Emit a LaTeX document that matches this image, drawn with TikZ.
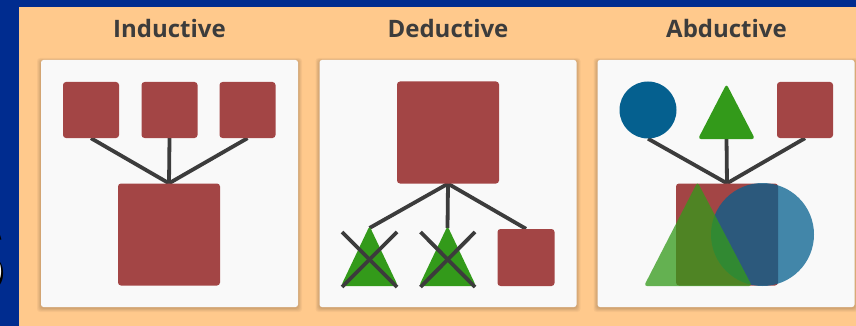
\documentclass[tikz,border=0pt]{standalone}
\usepackage{fontspec}
\setmainfont{Open Sans}
\newfontfamily\glyphfont{Liberation Sans}
\usetikzlibrary{calc}
\definecolor{bgblue}{RGB}{0,44,143}
\definecolor{bgorange}{RGB}{255,201,140}
\definecolor{panelwhite}{RGB}{249,249,249}
\definecolor{shred}{RGB}{163,69,69}
\definecolor{shgreen}{RGB}{51,154,26}
\definecolor{shblue}{RGB}{5,96,143}
\definecolor{inkdark}{RGB}{60,60,60}
\pgfdeclarelayer{back}
\pgfdeclarelayer{mid}
\pgfsetlayers{back,mid,main}
\tikzset{
  panel/.style={fill=panelwhite, rounded corners=2.5pt, minimum width=257pt, minimum height=247pt, inner sep=0pt},
  title/.style={anchor=base, text=inkdark, font=\fontsize{24}{24}\selectfont\bfseries},
  rsq/.style={fill=shred, rounded corners=3pt, inner sep=0pt, draw=none},
  bcirc/.style={circle, fill=shblue, inner sep=0pt, draw=none},
  link/.style={draw=inkdark, line width=3.8pt},
  cross/.style={draw=inkdark, line width=3.8pt},
  tri/.style={fill=shgreen, rounded corners=3pt},
  bigglyph/.style={anchor=base east, inner sep=0pt, font=\glyphfont\fontsize{140}{140}\selectfont\bfseries},
}
\begin{document}
\begin{tikzpicture}[x=1pt,y=-1pt]
\useasboundingbox (0,0) rectangle (856,326);
\begin{pgfonlayer}{back}
\clip (0,0) rectangle (856,326);
\fill[bgblue] (0,0) rectangle (856,326);
\node[bigglyph, text=black] (sg) at (10,295) {s};
\node[bigglyph, text=white] (sw) at (8,293.5) {s};
\fill[bgorange] (19,7) rectangle (860,330);
\foreach \cx/\nm in {169.5/p1, 448/p2, 726/p3} {
  \foreach \k in {1,...,5}
    \fill[black, opacity=0.035, rounded corners=3pt] (\cx-128.5-\k*0.8, 60-\k*0.6+1) rectangle (\cx+128.5+\k*0.8, 307+\k*0.8+1);
  \node[panel] (\nm) at (\cx,183.5) {};
}
\end{pgfonlayer}
% titles
\node[title] (h1) at (169.5,37.5) {Inductive};
\node[title] (h2) at (448,37.5) {Deductive};
\node[title] (h3) at (726.5,37.5) {Abductive};
% ---------- Inductive
\node[rsq, minimum size=56pt] (a1) at (91,110) {};
\node[rsq, minimum size=56pt] (a2) at (169.5,110) {};
\node[rsq, minimum size=56pt] (a3) at (247.5,110) {};
\node[rsq, minimum size=102pt] (a4) at (169,234.5) {};
\begin{pgfonlayer}{mid}
\draw[link] (a4.north) -- (a1.south);
\draw[link] (a4.north) -- (a2.south);
\draw[link] (a4.north) -- (a3.south);
\end{pgfonlayer}
% ---------- Deductive
\node[rsq, minimum size=102pt] (b0) at (448,132.5) {};
\coordinate (b1) at (369.5,226);
\coordinate (b2) at (447.5,226);
\fill[tri] (b1) -- ++(28.5,60) -- ++(-57,0) -- cycle;
\fill[tri] (b2) -- ++(28.5,60) -- ++(-57,0) -- cycle;
\node[rsq, minimum size=57pt] (b3) at (526,257.5) {};
\begin{pgfonlayer}{mid}
\draw[link] (b0.south) -- ($(b1)+(0,2)$);
\draw[link] (b0.south) -- ($(b2)+(0,2)$);
\draw[link] (b0.south) -- (b3.north);
\end{pgfonlayer}
\draw[cross] ($(b1)+(-27.5,6)$) -- ($(b1)+(27.5,61)$);
\draw[cross] ($(b1)+(27.5,6)$) -- ($(b1)+(-27.5,61)$);
\draw[cross] ($(b2)+(-27,6)$) -- ($(b2)+(27.5,61)$);
\draw[cross] ($(b2)+(27.5,6)$) -- ($(b2)+(-27,61)$);
% ---------- Abductive
\node[bcirc, minimum size=57pt] (c1) at (648,110) {};
\coordinate (c2) at (726.5,84);
\fill[tri] (c2) -- ++(28.5,55) -- ++(-57,0) -- cycle;
\coordinate (c2b) at (726.5,138);
\node[rsq, minimum size=56pt] (c3) at (805,110) {};
\node[rsq, minimum size=102pt] (c4) at (727,234.5) {};
\node[bcirc, fill opacity=0.75, minimum size=103pt] (c5) at (762.5,234.5) {};
\coordinate (c6) at (697.5,182);
\fill[tri, fill opacity=0.75] (c6) -- ++(54.5,104) -- ++(-108,0) -- cycle;
\begin{pgfonlayer}{mid}
\draw[link] (c4.north) -- (c1.south);
\draw[link] (c4.north) -- (c2b);
\draw[link] (c4.north) -- (c3.south);
\end{pgfonlayer}
\end{tikzpicture}
\end{document}
